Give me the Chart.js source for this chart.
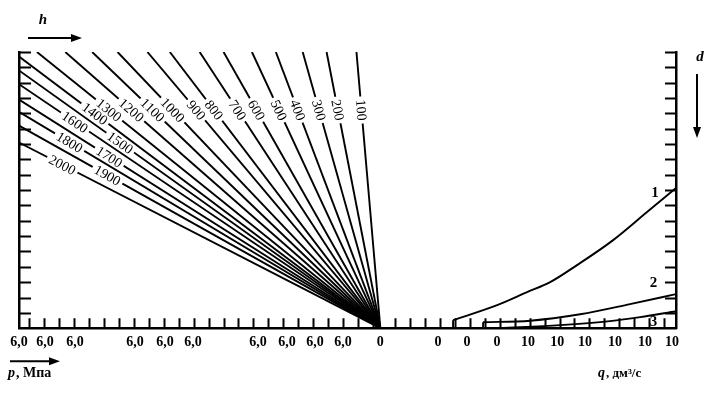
<!DOCTYPE html>
<html lang="ru">
<head>
<meta charset="UTF-8">
<title>Номограмма</title>
<script src="https://cdn.jsdelivr.net/npm/chart.js"></script>
<style>
  body { margin: 0; background: #fff; }
  canvas { display: block; }
</style>
</head>
<body>
<canvas id="nomo" width="711" height="393"></canvas>
<script>
// h lines: label, end point on the top / left edge (all meet at 0,0)
const hLabels = ['100','200','300','400','500','600','700','800','900','1000',
                 '1100','1200','1300','1400','1500','1600','1700','1800','1900','2000'];
const hEndX = [-1.6,-3.6,-5.2,-7.0,-8.6,-10.5,-12.1,-14.1,-15.6,-17.6,
               -19.3,-21.1,-23.0,-24.2,-24.2,-24.2,-24.2,-24.2,-24.2,-24.2];
const hEndY = [18,18,18,18,18,18,18,18,18,18,
               18,18,18,17.7,16.8,15.9,14.9,14.1,13.2,12.1];
// where the label sits along each line (0 = edge, 1 = origin)
const hLabelAt = [0.21,0.21,0.21,0.21,0.21,0.21,0.21,0.21,0.21,0.21,
                  0.21,0.21,0.21,0.21,0.28,0.155,0.25,0.14,0.245,0.12];

// d curves 1..3 (1 and 2 rise from the axis with a short vertical stub)
const c1X = [4.87,7.82,9.83,11.37,13.17,15.59,17.86,19.8];
const c1Y = [0.52,1.5,2.35,3.0,4.11,5.74,7.57,9.13];
const c2X = [6.88,10.03,13.38,16.72,19.8];
const c2Y = [0.39,0.49,0.91,1.57,2.22];
const c3X = [8.02,12.04,15.38,17.4,19.8];
const c3Y = [0,0.2,0.46,0.72,1.11];
const curveNames = ['1','2','3'];
const curveNameX = [18.4,18.3,18.3];
const curveNameY = [8.8,2.94,0.39];

// bottom axis labels
const xTickPos = [-24.2,-22.46,-20.45,-16.43,-14.42,-12.55,-8.19,-6.25,-4.37,-2.5,
                  0,3.86,5.81,7.82,9.89,11.84,13.71,15.72,17.73,19.54];
const xTickText = ['6,0','6,0','6,0','6,0','6,0','6,0','6,0','6,0','6,0','6,0',
                   '0','0','0','0','10','10','10','10','10','10'];

const SERIF = '"Liberation Serif", "DejaVu Serif", serif';
const X_MIN = -24.2, X_MAX = 19.8, Y_MAX = 18;

const zip = (xs, ys) => xs.map((x, i) => ({ x: x, y: ys[i] }));
const black = { borderColor: '#000', borderWidth: 1.9, pointRadius: 0 };

const datasets = hLabels.map((lab, i) => Object.assign({
  label: 'h ' + lab,
  data: [{ x: hEndX[i], y: hEndY[i] }, { x: 0, y: 0 }]
}, black));
[[c1X, c1Y], [c2X, c2Y], [c3X, c3Y]].forEach((c, i) => {
  datasets.push(Object.assign({
    label: 'd ' + curveNames[i],
    data: zip(c[0], c[1]),
    cubicInterpolationMode: 'monotone'
  }, black));
  if (c[1][0] > 0) {
    datasets.push(Object.assign({
      label: 'd ' + curveNames[i] + ' stub',
      data: [{ x: c[0][0], y: 0 }, { x: c[0][0], y: c[1][0] }]
    }, black));
  }
});

function arrow(ctx, x1, y1, x2, y2) {
  const a = Math.atan2(y2 - y1, x2 - x1);
  ctx.beginPath();
  ctx.moveTo(x1, y1);
  ctx.lineTo(x2 - 8 * Math.cos(a), y2 - 8 * Math.sin(a));
  ctx.stroke();
  ctx.beginPath();
  ctx.moveTo(x2, y2);
  ctx.lineTo(x2 - 11 * Math.cos(a) + 4 * Math.sin(a), y2 - 11 * Math.sin(a) - 4 * Math.cos(a));
  ctx.lineTo(x2 - 11 * Math.cos(a) - 4 * Math.sin(a), y2 - 11 * Math.sin(a) + 4 * Math.cos(a));
  ctx.closePath();
  ctx.fill();
}

const nomoPlugin = {
  id: 'nomo',
  afterDatasetsDraw(chart) {
    const { ctx, chartArea: a, scales: { x, y } } = chart;
    ctx.save();
    ctx.strokeStyle = '#000';
    ctx.fillStyle = '#000';
    ctx.lineWidth = 2;

    // inner ticks on left, right and bottom axes
    ctx.beginPath();
    for (let k = 1; k <= Y_MAX; k++) {
      const py = Math.round(y.getPixelForValue(k)) + 0.5;
      ctx.moveTo(a.left, py); ctx.lineTo(a.left + 12, py);
      ctx.moveTo(a.right - 11, py); ctx.lineTo(a.right, py);
    }
    for (let k = -23.5; k < 0; k++) {
      const px = Math.round(x.getPixelForValue(k)) + 0.5;
      ctx.moveTo(px, a.bottom); ctx.lineTo(px, a.bottom - 10);
    }
    for (let k = 1; k < X_MAX; k++) {
      const px = Math.round(x.getPixelForValue(k)) + 0.5;
      ctx.moveTo(px, a.bottom); ctx.lineTo(px, a.bottom - 10);
    }
    ctx.stroke();

    // labels on the h lines
    ctx.font = '14px ' + SERIF;
    ctx.textAlign = 'center';
    ctx.textBaseline = 'middle';
    hLabels.forEach((lab, i) => {
      const x0 = x.getPixelForValue(hEndX[i]), y0 = y.getPixelForValue(hEndY[i]);
      const x1 = x.getPixelForValue(0), y1 = y.getPixelForValue(0);
      const t = hLabelAt[i];
      const px = x0 + (x1 - x0) * t, py = y0 + (y1 - y0) * t;
      const ang = Math.atan2(y1 - y0, x1 - x0);
      const w = ctx.measureText(lab).width + 6;
      ctx.save();
      ctx.translate(px, py);
      ctx.rotate(ang);
      ctx.fillStyle = '#fff';
      ctx.fillRect(-w / 2, -3, w, 6);
      ctx.fillStyle = '#000';
      ctx.fillText(lab, 0, 1);
      ctx.restore();
    });

    // curve numbers
    ctx.font = 'bold 15px ' + SERIF;
    curveNames.forEach((n, i) => {
      ctx.fillText(n, x.getPixelForValue(curveNameX[i]), y.getPixelForValue(curveNameY[i]));
    });

    // axis names and arrows
    ctx.lineWidth = 2;
    ctx.font = 'italic bold 15px ' + SERIF;
    ctx.fillText('h', a.left + 24, a.top - 32);
    arrow(ctx, a.left + 9, a.top - 14, a.left + 63, a.top - 14);
    ctx.fillText('d', a.right + 24, a.top + 5);
    arrow(ctx, a.right + 21, a.top + 22, a.right + 21, a.top + 86);
    arrow(ctx, a.left - 9, a.bottom + 33, a.left + 41, a.bottom + 33);
    ctx.textAlign = 'left';
    ctx.font = 'italic bold 14px ' + SERIF;
    ctx.fillText('p', a.left - 11, a.bottom + 45);
    ctx.font = 'bold 14px ' + SERIF;
    ctx.fillText(', Мпа', a.left - 3, a.bottom + 45);
    ctx.font = 'italic bold 14px ' + SERIF;
    ctx.fillText('q', a.right - 78, a.bottom + 45);
    ctx.font = 'bold 13px ' + SERIF;
    ctx.fillText(', дм³/с', a.right - 70, a.bottom + 45);
    ctx.restore();
  }
};

const axisBorder = { display: true, color: '#000', width: 2.5 };

new Chart(document.getElementById('nomo'), {
  type: 'line',
  data: { datasets: datasets },
  plugins: [nomoPlugin],
  options: {
    responsive: false,
    animation: false,
    layout: { padding: { left: 19, right: 35, top: 52, bottom: 36 } },
    plugins: { legend: { display: false }, tooltip: { enabled: false } },
    scales: {
      x: {
        type: 'linear', position: 'bottom', min: X_MIN, max: X_MAX,
        grid: { display: false, drawTicks: false },
        border: axisBorder,
        afterBuildTicks: s => { s.ticks = xTickPos.map(v => ({ value: v })); },
        ticks: {
          autoSkip: false, maxRotation: 0, padding: 6, color: '#000',
          font: { family: SERIF, size: 14, weight: 'bold' },
          callback: (v, i) => xTickText[i]
        }
      },
      y: {
        type: 'linear', position: 'left', min: 0, max: Y_MAX,
        grid: { display: false, drawTicks: false },
        border: axisBorder,
        ticks: { display: false }
      },
      y2: {
        type: 'linear', position: 'right', min: 0, max: Y_MAX,
        grid: { display: false, drawTicks: false },
        border: axisBorder,
        ticks: { display: false }
      }
    }
  }
});
</script>
</body>
</html>
